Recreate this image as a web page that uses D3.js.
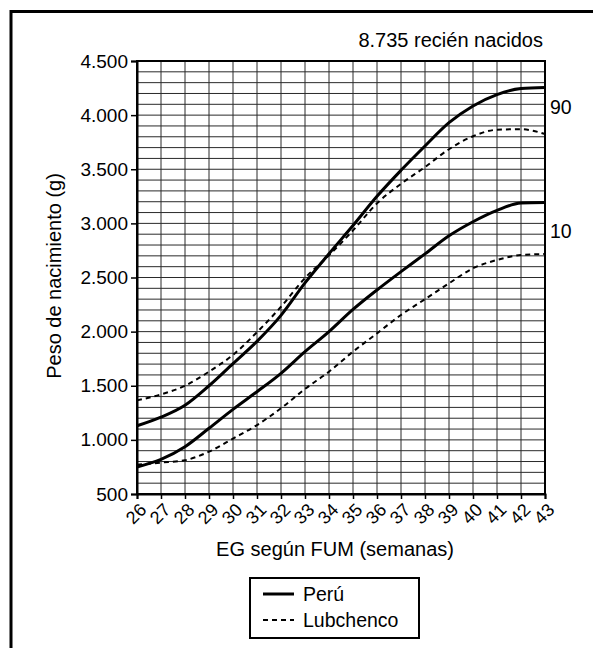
<!DOCTYPE html>
<html>
<head>
<meta charset="utf-8">
<script src="https://cdn.jsdelivr.net/npm/d3@7"></script>
<style>
  body { margin: 0; background: #fff; }
  text { font-family: "Liberation Sans", Arial, sans-serif; fill: #000; }
</style>
</head>
<body>
<div id="chart"></div>
<script>
// weeks of gestational age and the percentile curves (g)
var weeks = [26, 27, 28, 29, 30, 31, 32, 33, 34, 35, 36, 37, 38, 39, 40, 41, 42, 43];
var peruP90 = [1130, 1210, 1320, 1500, 1705, 1910, 2150, 2450, 2720, 2980, 3250, 3490, 3715, 3930, 4085, 4190, 4245, 4255];
var lubP90  = [1365, 1420, 1500, 1630, 1785, 1995, 2230, 2495, 2705, 2935, 3185, 3365, 3520, 3685, 3805, 3865, 3870, 3825];
var peruP10 = [750, 820, 937, 1107, 1282, 1445, 1615, 1815, 2000, 2205, 2385, 2554, 2718, 2885, 3015, 3120, 3188, 3192];
var lubP10  = [770, 790, 812, 891, 1012, 1137, 1292, 1470, 1630, 1815, 1984, 2154, 2300, 2446, 2585, 2662, 2708, 2717];
var yTicks = [500, 1000, 1500, 2000, 2500, 3000, 3500, 4000, 4500];
var legendLabels = ["Perú", "Lubchenco"];

var width = 593, height = 648;
var margin = { top: 61, right: 48, bottom: 154, left: 137 };

var svg = d3.select("#chart").append("svg")
    .attr("width", width)
    .attr("height", height);

// outer frame (bottom and right run off the picture)
svg.append("rect")
    .attr("x", 11).attr("y", 11.5)
    .attr("width", 600).attr("height", 700)
    .attr("fill", "none")
    .attr("stroke", "#000")
    .attr("stroke-width", 3);

var x = d3.scaleLinear().domain([26, 43]).range([margin.left, width - margin.right]);
var y = d3.scaleLinear().domain([500, 4500]).range([height - margin.bottom, margin.top]);

// grid
var grid = svg.append("g").attr("stroke", "#2a2a2a").attr("stroke-width", 1);
grid.selectAll("line.v").data(weeks).enter().append("line")
    .attr("x1", function (d) { return x(d); }).attr("x2", function (d) { return x(d); })
    .attr("y1", y(500)).attr("y2", y(4500));
grid.selectAll("line.h").data(d3.range(500, 4501, 100)).enter().append("line")
    .attr("x1", x(26)).attr("x2", x(43))
    .attr("y1", function (d) { return y(d); }).attr("y2", function (d) { return y(d); });

svg.append("rect")
    .attr("x", x(26)).attr("y", y(4500))
    .attr("width", x(43) - x(26)).attr("height", y(500) - y(4500))
    .attr("fill", "none").attr("stroke", "#000").attr("stroke-width", 2);

// axes
var loc = d3.formatLocale({ decimal: ",", thousands: ".", grouping: [3], currency: ["", ""] });

var yAxis = svg.append("g")
    .attr("transform", "translate(" + x(26) + ",0)")
    .call(d3.axisLeft(y).tickValues(yTicks).tickSize(6).tickPadding(3).tickFormat(loc.format(",")));
yAxis.select(".domain").attr("stroke-width", 2);
yAxis.selectAll(".tick line").attr("stroke-width", 1.5);
yAxis.selectAll(".tick text")
    .style("font-size", "19px")
    .attr("dy", "0.32em");

var xAxis = svg.append("g")
    .attr("transform", "translate(0," + y(500) + ")")
    .call(d3.axisBottom(x).tickValues(weeks).tickSize(5).tickFormat(d3.format("d")));
xAxis.select(".domain").attr("stroke-width", 2);
xAxis.selectAll(".tick line").attr("stroke-width", 1.5);
xAxis.selectAll(".tick text")
    .style("font-size", "18px")
    .attr("text-anchor", "end")
    .attr("x", 0).attr("y", 0).attr("dy", 0)
    .attr("transform", "translate(10,17) rotate(-45)");

svg.selectAll(".tick text").style("font-family", "'Liberation Sans', Arial, sans-serif").attr("fill", "#000");

// curves
var line = d3.line()
    .x(function (d, i) { return x(weeks[i]); })
    .y(function (d) { return y(d); })
    .curve(d3.curveMonotoneX);

var series = [
    { values: peruP90, dash: null },
    { values: peruP10, dash: null },
    { values: lubP90, dash: "5,4" },
    { values: lubP10, dash: "5,4" }
];

svg.selectAll("path.curve").data(series).enter().append("path")
    .attr("class", "curve")
    .attr("d", function (d) { return line(d.values); })
    .attr("fill", "none")
    .attr("stroke", "#000")
    .attr("stroke-width", function (d) { return d.dash ? 2 : 3; })
    .attr("stroke-dasharray", function (d) { return d.dash; });

// texts
svg.append("text")
    .attr("x", 543).attr("y", 47)
    .attr("text-anchor", "end")
    .style("font-size", "20px")
    .text("8.735 recién nacidos");

svg.append("text").attr("x", 550).attr("y", 114).style("font-size", "19.5px").text("90");
svg.append("text").attr("x", 550).attr("y", 238).style("font-size", "19.5px").text("10");

svg.append("text")
    .attr("transform", "translate(61,276) rotate(-90)")
    .attr("text-anchor", "middle")
    .style("font-size", "20px")
    .text("Peso de nacimiento (g)");

svg.append("text")
    .attr("x", (x(26) + x(43)) / 2 - 6).attr("y", 556)
    .attr("text-anchor", "middle")
    .style("font-size", "20px")
    .text("EG según FUM (semanas)");

// legend
var legend = svg.append("g");
legend.append("rect")
    .attr("x", 250).attr("y", 578)
    .attr("width", 169).attr("height", 60)
    .attr("fill", "#fff").attr("stroke", "#000").attr("stroke-width", 2);

legend.selectAll("line").data(legendLabels).enter().append("line")
    .attr("x1", 263).attr("x2", 294)
    .attr("y1", function (d, i) { return 594 + i * 26; })
    .attr("y2", function (d, i) { return 594 + i * 26; })
    .attr("stroke", "#000")
    .attr("stroke-width", function (d, i) { return i ? 2 : 3; })
    .attr("stroke-dasharray", function (d, i) { return i ? "5,4" : null; });

legend.selectAll("text").data(legendLabels).enter().append("text")
    .attr("x", 303)
    .attr("y", function (d, i) { return 601 + i * 26; })
    .style("font-size", "19.5px")
    .text(function (d) { return d; });
</script>
</body>
</html>
